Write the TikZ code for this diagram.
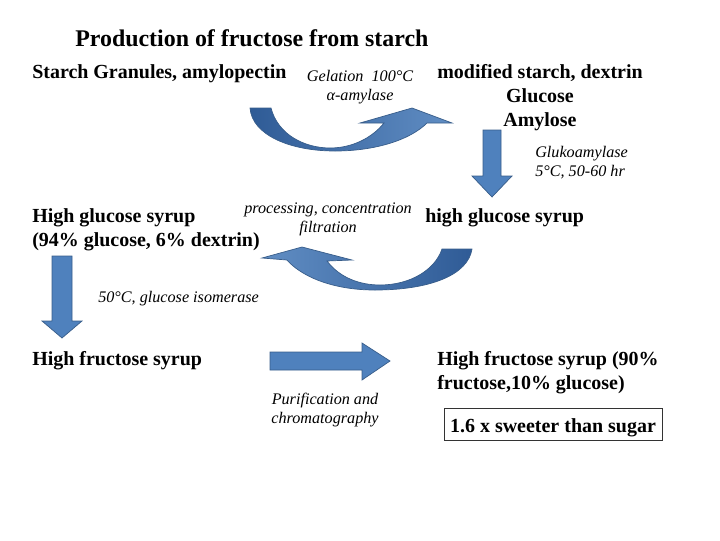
\documentclass[tikz,border=0pt]{standalone}
\usepackage{fontspec}
\setmainfont{Liberation Serif}
\definecolor{arrowblue}{HTML}{4F81BD}
\definecolor{arrowline}{HTML}{385D8A}
\definecolor{darkblue}{HTML}{2F5B96}
\tikzset{
	blockarrow/.style={fill=arrowblue, draw=arrowline, line width=0.5pt},
	bentarrow/.style={draw=arrowline, line width=0.5pt},
	stage/.style={inner sep=0pt, font=\fontsize{14.2}{17}\selectfont\bfseries},
	step label/.style={inner sep=0pt, font=\fontsize{11.5}{13.2}\selectfont\itshape}
}
\begin{document}
\begin{tikzpicture}[x=0.025cm, y=-0.025cm]
	\useasboundingbox (0,0) rectangle (720,540);
	% title
	\node[inner sep=0pt, anchor=mid west, font=\fontsize{17}{20}\selectfont\bfseries] (title) at (75,43) {Production of fructose from starch};
	% stages
	\node[stage, anchor=mid west] (starch) at (32,75) {Starch Granules, amylopectin};
	\node[stage, anchor=north, align=center] (dextrin) at (540,64) {modified starch, dextrin\\Glucose\\Amylose};
	\node[stage, anchor=mid west] (hgsright) at (425,219) {high glucose syrup};
	\node[stage, anchor=north west, align=left] (hgsleft) at (32,208) {High glucose syrup\\(94\% glucose, 6\% dextrin)};
	\node[stage, anchor=mid west] (hfs) at (32,362) {High fructose syrup};
	\node[stage, anchor=north west, align=left] (hfsnine) at (437,351) {High fructose syrup (90\%\\fructose,10\% glucose)};
	\node[stage, draw=black!80, line width=0.6pt, text height=14pt, text depth=2pt, minimum width=218*0.025cm, minimum height=32*0.025cm] (sweet) at (553,424) {1.6 x sweeter than sugar};
	% conditions
	\node[step label, anchor=north, align=center] (gelation) at (360,70) {Gelation \ 100°C\\α-amylase};
	\node[step label, anchor=north west, align=left] (gluko) at (535,146) {Glukoamylase\\5°C, 50-60 hr};
	\node[step label, anchor=north, align=center] (processing) at (328,203) {processing, concentration\\filtration};
	\node[step label, anchor=mid west] (isomerase) at (98,299) {50°C, glucose isomerase};
	\node[step label, anchor=north, align=center] (purification) at (325,393) {Purification and\\chromatography};
	% curved arrow: starch -> dextrin
	\draw[bentarrow, left color=darkblue, right color=arrowblue!90]
		(250,108) -- (271,108)
		.. controls (278,135) and (305,148) .. (330,148)
		.. controls (352,148) and (372,138) .. (384,123)
		-- (360,123) -- (412,108) -- (452,123) -- (427,123)
		.. controls (410,140) and (375,151) .. (335,151)
		.. controls (290,151) and (252,135) .. (250,108) -- cycle;
	% down arrow: dextrin -> high glucose syrup
	\draw[blockarrow] (483,130) -- (501,130) -- (501,176) -- (512,176) -- (492,197)
		-- (472,176) -- (483,176) -- cycle;
	% curved arrow: high glucose syrup -> 94% syrup
	\draw[bentarrow, left color=arrowblue!90, right color=darkblue]
		(472,249) -- (442,249)
		.. controls (435,270) and (410,285) .. (380,285)
		.. controls (360,285) and (340,278) .. (327,261)
		-- (352,260) -- (302,247) -- (262,258) -- (287,260)
		.. controls (300,275) and (330,290) .. (375,290)
		.. controls (430,290) and (468,275) .. (472,249) -- cycle;
	% down arrow: 94% syrup -> high fructose syrup
	\draw[blockarrow] (52,256) -- (72,256) -- (72,321) -- (82,321) -- (62,338)
		-- (42,321) -- (52,321) -- cycle;
	% right arrow: high fructose syrup -> 90% syrup
	\draw[blockarrow] (270,352) -- (362,352) -- (362,343) -- (390,361)
		-- (362,380) -- (362,370) -- (270,370) -- cycle;
\end{tikzpicture}
\end{document}
